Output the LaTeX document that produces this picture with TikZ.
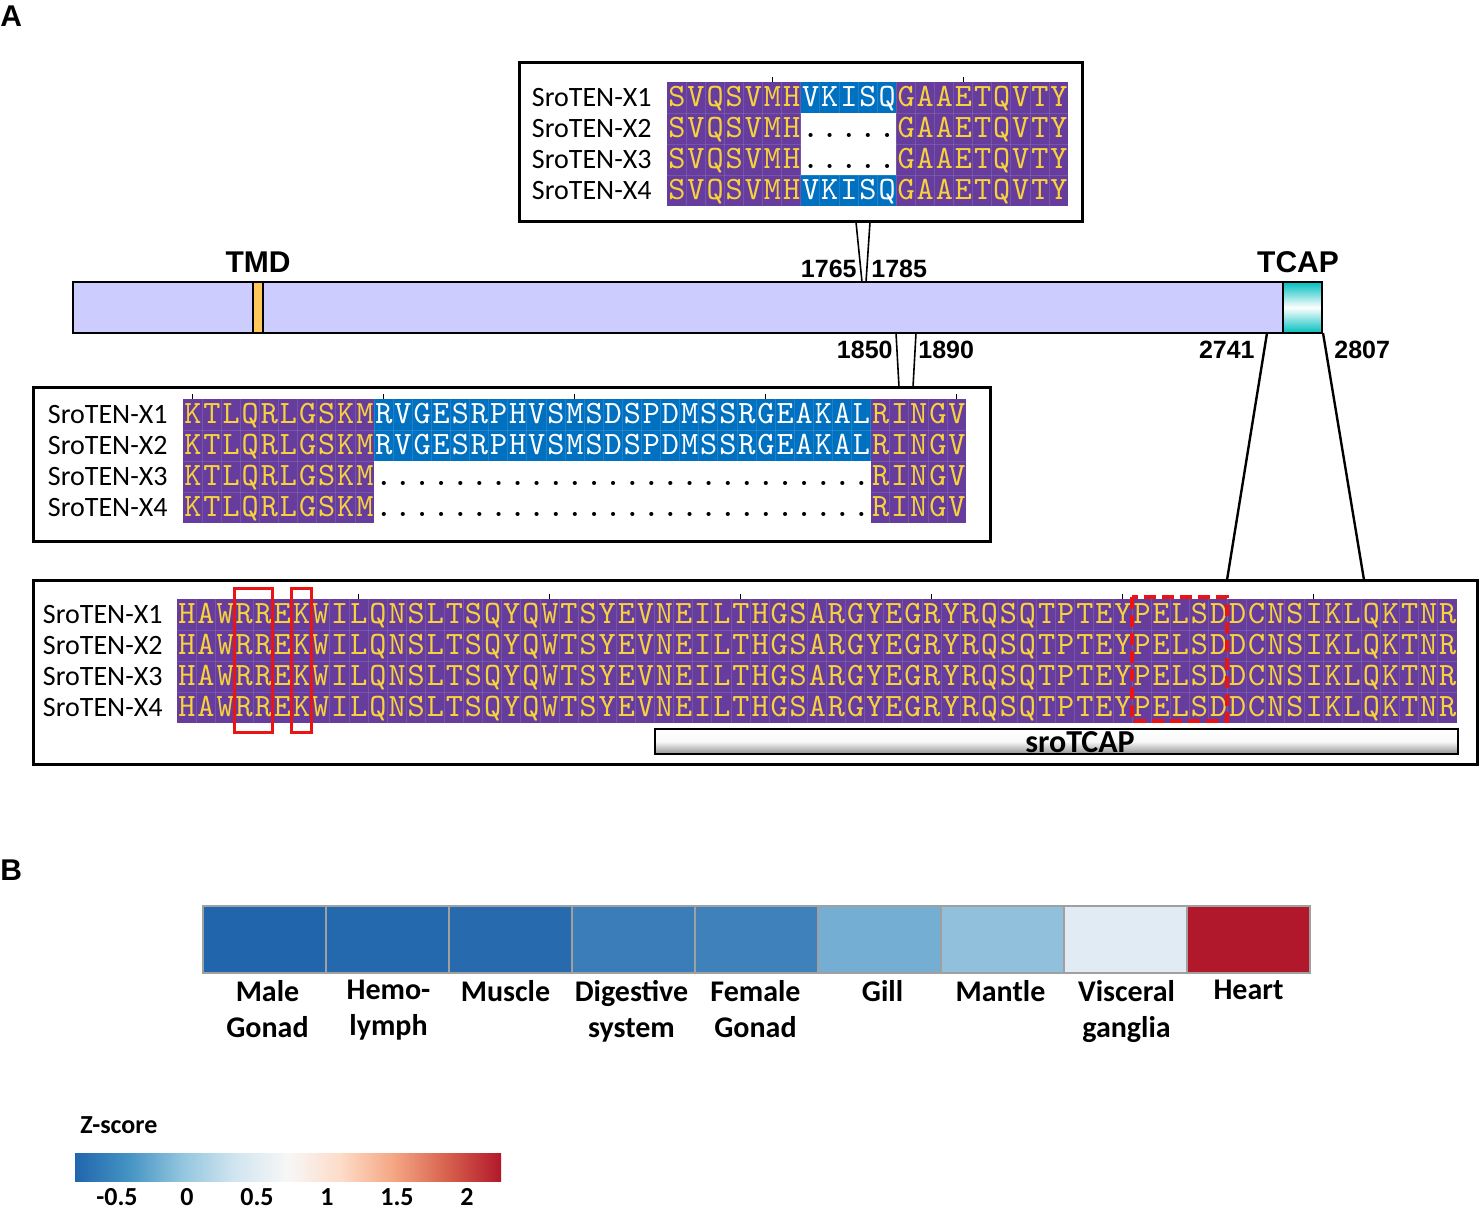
\documentclass[tikz,border=0pt]{standalone}
\usepackage{fontspec}
\setmainfont{Carlito}
\newfontfamily\seqfont[Extension=.otf, LetterSpace=6.1]{lmmono10-regular}
\newfontfamily\arialfont{Liberation Sans}
\usepackage{tikz}
\usetikzlibrary{calc}
\usetikzlibrary{positioning}

\definecolor{seqpurple}{RGB}{102,61,156}
\definecolor{seqblue}{RGB}{0,112,192}
\definecolor{seqyellow}{RGB}{248,210,60}
\definecolor{barlav}{RGB}{204,204,255}
\definecolor{tmdyellow}{RGB}{255,200,90}
\definecolor{tcapcyan}{RGB}{0,190,190}
\definecolor{boxred}{RGB}{235,20,20}
\definecolor{cellgray}{RGB}{160,160,160}
% heatmap cells
\definecolor{hm1}{RGB}{33,102,172}
\definecolor{hm2}{RGB}{36,104,173}
\definecolor{hm3}{RGB}{39,107,174}
\definecolor{hm4}{RGB}{58,125,184}
\definecolor{hm5}{RGB}{63,130,187}
\definecolor{hm6}{RGB}{116,174,211}
\definecolor{hm7}{RGB}{145,192,221}
\definecolor{hm8}{RGB}{225,235,243}
\definecolor{hm9}{RGB}{178,24,43}
% colour bar
\definecolor{cb1}{HTML}{2166AC}
\definecolor{cb2}{HTML}{4393C3}
\definecolor{cb3}{HTML}{92C5DE}
\definecolor{cb4}{HTML}{D1E5F0}
\definecolor{cb5}{HTML}{F7F7F7}
\definecolor{cb6}{HTML}{FDDBC7}
\definecolor{cb7}{HTML}{F4A582}
\definecolor{cb8}{HTML}{D6604D}
\definecolor{cb9}{HTML}{B2182B}
\pgfdeclarehorizontalshading{rdbu}{100bp}{color(0bp)=(cb1); color(25bp)=(cb1);
  color(31.25bp)=(cb2); color(37.5bp)=(cb3); color(43.75bp)=(cb4); color(50bp)=(cb5);
  color(56.25bp)=(cb6); color(62.5bp)=(cb7); color(68.75bp)=(cb8); color(75bp)=(cb9);
  color(100bp)=(cb9)}

% gaps in the alignments
\newcommand{\shortgap}{.....}
\newcommand{\longgap}{..........................}

\tikzset{
  seq/.style={inner sep=0pt, anchor=base west, xshift=0.5pt, font=\seqfont\fontsize{16.3}{17}\selectfont},
  seqname/.style={inner sep=0pt, anchor=base east, font=\fontsize{14}{14}\selectfont},
  poslabel/.style={inner sep=0pt, anchor=base, font=\arialfont\bfseries\fontsize{12.5}{12.5}\selectfont},
  domlabel/.style={inner sep=0pt, anchor=base, font=\arialfont\bfseries\fontsize{15}{15}\selectfont},
  panel/.style={draw, line width=1.5pt},
  zoomline/.style={line width=0.8pt},
  gridln/.style={white, opacity=0.12, line width=0.4pt},
  rulertick/.style={line width=0.5pt},
  redbox/.style={draw=boxred, line width=1.5pt},
  tissue/.style={inner sep=0pt, anchor=north, align=center, font=\bfseries\fontsize{15}{18}\selectfont},
  cbtick/.style={inner sep=0pt, anchor=base, font=\bfseries\fontsize{13}{13}\selectfont},
}

\begin{document}
\begin{tikzpicture}[x=0.5pt,y=-0.5pt]
    \useasboundingbox (0,0) rectangle (1481,1210);
    \def\cw{19.1}

    % panel letters
    \node[domlabel, anchor=base west] (A) at (0,26) {A};
    \node[domlabel, anchor=base west] (B) at (0,880) {B};

    % protein bar
    \draw[fill=barlav, line width=1pt] (73,282) rectangle (1322,333);
    % TMD
    \draw[fill=tmdyellow, line width=0.6pt] (253,282) rectangle (263,333);
    \node[domlabel] (tmd) at (258,272) {TMD};
    % TCAP
    \shade[top color=tcapcyan, bottom color=tcapcyan, middle color=white] (1283,282) rectangle (1322,333);
    \draw[line width=1pt] (1283,282) rectangle (1322,333);
    \node[domlabel] (tcap) at (1298,272) {TCAP};

    % zoom lines 1765-1785
    \coordinate (a1) at (856,222); \coordinate (a2) at (870,222);
    \coordinate (b1) at (862,282); \coordinate (b2) at (866,282);
    \draw[zoomline] (a1) -- (b1) (a2) -- (b2);
    \node[poslabel, anchor=base east] (p1765) at (857,277) {1765};
    \node[poslabel, anchor=base west] (p1785) at (871,277) {1785};

    % zoom lines 1850-1890
    \coordinate (c1) at (896,333); \coordinate (c2) at (916,333);
    \coordinate (d1) at (899,387); \coordinate (d2) at (913,387);
    \draw[zoomline] (c1) -- (d1) (c2) -- (d2);
    \node[poslabel, anchor=base east] (p1850) at (893,358) {1850};
    \node[poslabel, anchor=base west] (p1890) at (918,358) {1890};

    % zoom lines 2741-2807
    \coordinate (e1) at (1267,333); \coordinate (e2) at (1323,333);
    \coordinate (f1) at (1227,580); \coordinate (f2) at (1364,580);
    \draw[zoomline, line width=1.2pt] (e1) -- (f1) (e2) -- (f2);
    \node[poslabel, anchor=base east] (p2741) at (1255,358) {2741};
    \node[poslabel, anchor=base west] (p2807) at (1334,358) {2807};

    % top alignment
    \draw[panel] (519,62) rectangle (1082,221);
    \fill[seqpurple] (667,82) rectangle (667+21*\cw,206);
    \fill[seqblue] (667+7*\cw,82) rectangle ++(5*\cw,124);
    \foreach \k in {1,...,20} \draw[gridln] (667+\k*\cw,82) -- (667+\k*\cw,206);
    \foreach \k in {1,2,3} \draw[gridln] (667,82+31*\k) -- (667+21*\cw,82+31*\k);
    \fill[white] (667+7*\cw,113) rectangle ++(5*\cw,62);
    \foreach \k in {5,15} \draw[rulertick] (667+\k*\cw+\cw/2,77) -- ++(0,5);
    \foreach \rw/\gap/\gc in {1/VKISQ/white,2/\shortgap/black,3/\shortgap/black,4/VKISQ/white}{
        \node[seqname] (tn\rw) at (652,75.5+31*\rw) {SroTEN-X\rw};
        \node[seq, text=seqyellow] (ta\rw) at (667,75+31*\rw) {SVQSVMH};
        \node[seq, text=\gc] (tb\rw) at (667+7*\cw,75+31*\rw) {\gap};
        \node[seq, text=seqyellow] (tc\rw) at (667+12*\cw,75+31*\rw) {GAAETQVTY};
    }

    % middle alignment
    \draw[panel] (33,387) rectangle (990,541);
    \fill[seqpurple] (183,399) rectangle (183+41*\cw,523);
    \fill[seqblue] (183+10*\cw,399) rectangle ++(26*\cw,124);
    \foreach \k in {1,...,40} \draw[gridln] (183+\k*\cw,399) -- (183+\k*\cw,523);
    \foreach \k in {1,2,3} \draw[gridln] (183,399+31*\k) -- (183+41*\cw,399+31*\k);
    \fill[white] (183+10*\cw,461) rectangle ++(26*\cw,62);
    \foreach \k in {0,10,20,30,40} \draw[rulertick] (183+\k*\cw+\cw/2,394) -- ++(0,5);
    \foreach \rw/\gap/\gc in {1/RVGESRPHVSMSDSPDMSSRGEAKAL/white,2/RVGESRPHVSMSDSPDMSSRGEAKAL/white,
        3/\longgap/black,4/\longgap/black}{
        \node[seqname] (mn\rw) at (168,392.5+31*\rw) {SroTEN-X\rw};
        \node[seq, text=seqyellow] (ma\rw) at (183,392+31*\rw) {KTLQRLGSKM};
        \node[seq, text=\gc] (mb\rw) at (183+10*\cw,392+31*\rw) {\gap};
        \node[seq, text=seqyellow] (mc\rw) at (183+36*\cw,392+31*\rw) {RINGV};
    }

    % TCAP alignment
    \draw[panel] (33,580) rectangle (1477,764);
    \fill[seqpurple] (177,599) rectangle (177+67*\cw,723);
    \foreach \k in {1,...,66} \draw[gridln] (177+\k*\cw,599) -- (177+\k*\cw,723);
    \foreach \k in {1,2,3} \draw[gridln] (177,599+31*\k) -- (177+67*\cw,599+31*\k);
    \foreach \k in {9,19,29,39,49,59} \draw[rulertick] (177+\k*\cw+\cw/2,594) -- ++(0,5);
    \foreach \rw in {1,2,3,4}{
        \node[seqname] (bn\rw) at (163,592.5+31*\rw) {SroTEN-X\rw};
        \node[seq, text=seqyellow] (bs\rw) at (177,592+31*\rw)
            {HAWRREKWILQNSLTSQYQWTSYEVNEILTHGSARGYEGRYRQSQTPTEYPELSDDCNSIKLQKTNR};
    }
    % motifs
    \draw[redbox] (234,588) rectangle (272,732);
    \draw[redbox] (291,588) rectangle (311,732);
    \draw[redbox, line width=1.8pt, dash pattern=on 6pt off 3pt] (1132,597) rectangle (1227,721);
    % sroTCAP
    \shade[top color=white, bottom color=gray!85, middle color=white!95!gray] (655,729) rectangle (1458,754);
    \draw[line width=0.6pt] (655,729) rectangle (1458,754);
    \node[inner sep=0pt, anchor=base, font=\bfseries\fontsize{16}{16}\selectfont] (srotcap) at (1080,752) {sroTCAP};

    % heatmap
    \foreach \c/\lab/\dx [count=\i from 0] in {hm1/{Male\\Gonad}/3,hm2/{Hemo-\\lymph}/1,hm3/Muscle/-5,
        hm4/{Digestive\\system}/-2,hm5/{Female\\Gonad}/-1,hm6/Gill/3,hm7/Mantle/-2,hm8/{Visceral\\ganglia}/1,hm9/Heart/0}{
        \fill[\c] (203+\i*123,906) rectangle ++(123,67);
        \node[tissue] (tis\i) at (264.5+\i*123+\dx,980) {\lab};
    }
    \foreach \i in {0,...,8} \draw[cellgray, line width=0.8pt] (203+\i*123,906) rectangle ++(123,67);

    % colour bar
    \node[cbtick, anchor=base west] (zs) at (80,1133) {Z-score};
    \shade[shading=rdbu] (75,1153) rectangle (501,1181);
    \foreach \val [count=\i from 0] in {-0.5,0,0.5,1,1.5,2} \node[cbtick] (cb\i) at (117+\i*70,1205) {\val};
\end{tikzpicture}
\end{document}
